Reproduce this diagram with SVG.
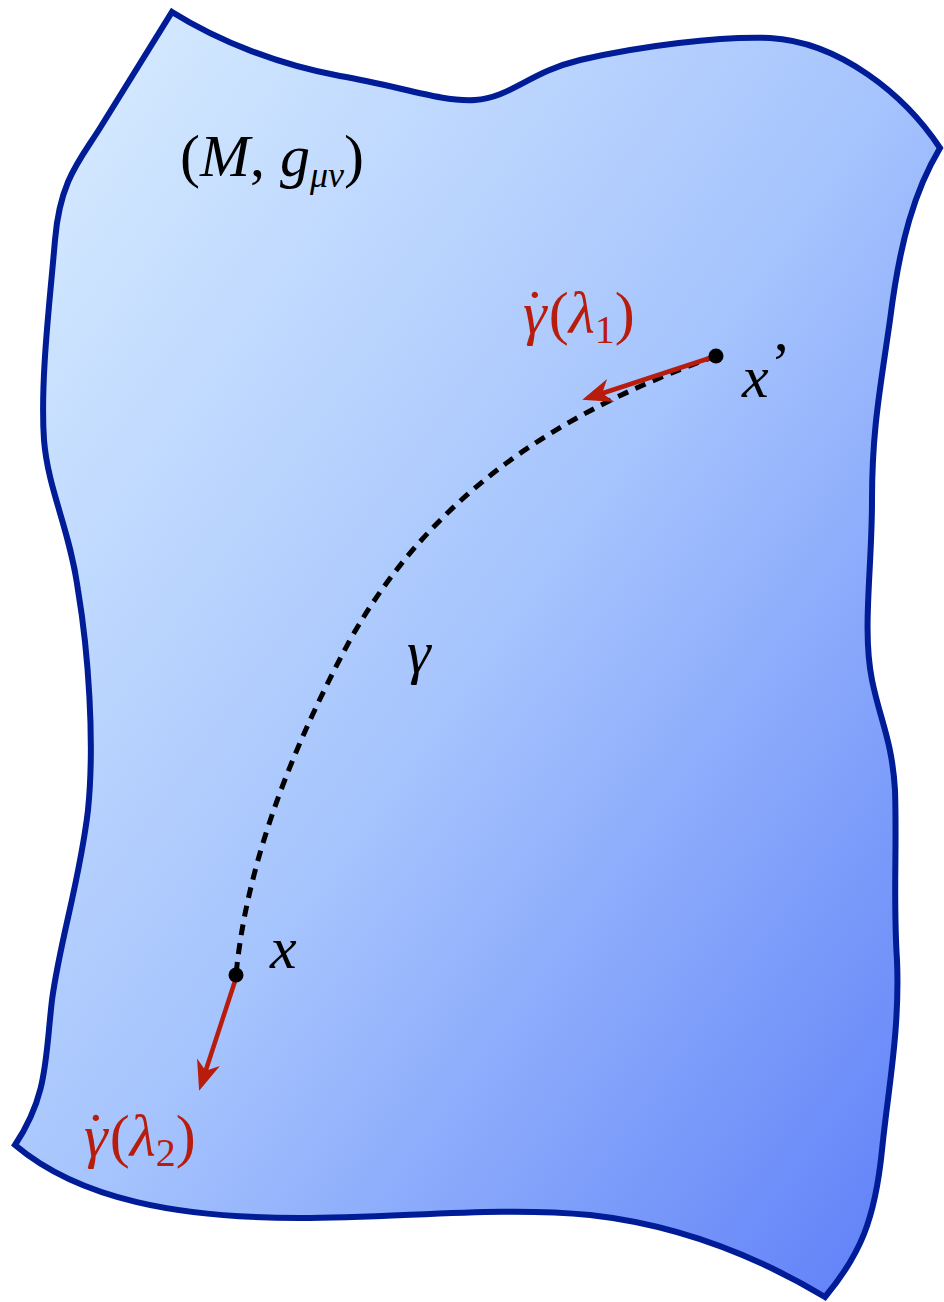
<svg xmlns="http://www.w3.org/2000/svg" width="944" height="1302" viewBox="0 0 944 1302">
<defs>
<linearGradient id="bg" x1="0" y1="0" x2="1" y2="1" gradientUnits="objectBoundingBox">
<stop offset="0" stop-color="#dbefff"/>
<stop offset="0.5" stop-color="#a6c4fd"/>
<stop offset="1" stop-color="#5b7cf8"/>
</linearGradient>
<marker id="ah" viewBox="0 0 10 10" refX="8" refY="5" markerWidth="30" markerHeight="30" markerUnits="userSpaceOnUse" orient="auto">
<path d="M0,1 L10,5 L0,9 L3,5 Z" fill="#b81c0c" stroke="none"/>
</marker>
</defs>
<style>
text{font-family:'Liberation Serif','Times New Roman',serif}
.lbl{font-style:italic;font-size:60px;fill:#000}
.red{fill:#b81c0c}
.up{font-style:normal}
.arr{stroke:#b81c0c;stroke-width:4.5}
</style>
<g id="manifold">
<path d="M172,12 C220,42 280,65 340,76 C400,86 440,102 475,100 C510,98 530,72 580,60 C640,46 720,36 770,38 C840,42 905,95 940,148 C915,190 900,240 890,320 C880,390 872,430 872,500 C872,570 862,630 872,680 C880,720 892,740 895,790 C897,850 893,900 897,960 C900,1030 888,1090 882,1150 C875,1220 860,1255 825,1297 C760,1258 680,1225 590,1215 C500,1206 400,1218 300,1218 C180,1218 80,1200 15,1145 C48,1095 45,1060 52,1000 C60,940 80,880 88,810 C95,740 88,650 78,590 C70,530 48,490 44,440 C40,380 50,300 55,240 C60,180 80,160 100,128 Z" fill="url(#bg)" stroke="#001c96" stroke-width="6" stroke-linejoin="miter"/>
</g>
<g id="connectors">
<path id="gamma-curve" d="M716,356 C580,405 440,480 350,640 C280,770 245,880 236,975" fill="none" stroke="#000" stroke-width="5" stroke-dasharray="11,8"/>
<line class="arr" x1="710" y1="358" x2="588" y2="398" marker-end="url(#ah)"/>
<line class="arr" x1="236" y1="978" x2="201" y2="1085" marker-end="url(#ah)"/>
</g>
<g id="point-xprime">
<circle cx="716" cy="356" r="7.5" fill="#000"/>
<text class="lbl" x="742" y="397">x<tspan class="up" dx="2" dy="-14">’</tspan></text>
</g>
<g id="point-x">
<circle cx="236" cy="975" r="7.5" fill="#000"/>
<text class="lbl" x="270" y="968">x</text>
</g>
<g id="label-manifold">
<text class="lbl" x="180" y="176" font-size="56"><tspan class="up">(</tspan>M<tspan class="up">, </tspan>g<tspan font-size="36" dy="11">μν</tspan><tspan class="up" dy="-11">)</tspan></text>
</g>
<g id="label-gamma">
<text class="lbl" x="407" y="672">γ</text>
</g>
<g id="label-lambda1">
<text class="lbl red" x="523" y="333">γ<tspan class="up" dx="-22" dy="-2">˙</tspan><tspan class="up" dx="4" dy="2">(</tspan>λ<tspan class="up" font-size="40" dy="10">1</tspan><tspan class="up" dy="-10">)</tspan></text>
</g>
<g id="label-lambda2">
<text class="lbl red" x="84" y="1156">γ<tspan class="up" dx="-22" dy="-2">˙</tspan><tspan class="up" dx="4" dy="2">(</tspan>λ<tspan class="up" font-size="40" dy="10">2</tspan><tspan class="up" dy="-10">)</tspan></text>
</g>
</svg>
